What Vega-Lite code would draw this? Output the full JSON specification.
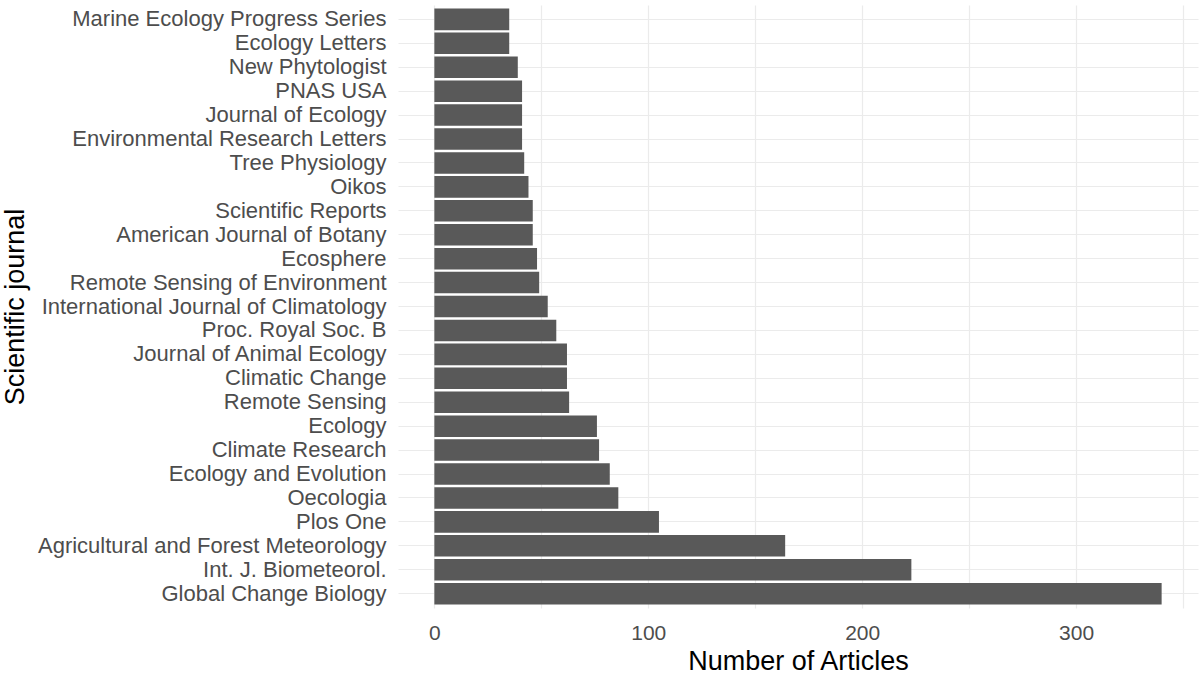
{
  "$schema": "https://vega.github.io/schema/vega-lite/v6.json",
  "width": 800,
  "height": 603,
  "autosize": {"type": "none"},
  "padding": {"left": 398, "top": 5, "right": 2, "bottom": 66},
  "background": "white",
  "data": {
    "values": [
      {"journal": "Marine Ecology Progress Series", "articles": 35},
      {"journal": "Ecology Letters", "articles": 35},
      {"journal": "New Phytologist", "articles": 39},
      {"journal": "PNAS USA", "articles": 41},
      {"journal": "Journal of Ecology", "articles": 41},
      {"journal": "Environmental Research Letters", "articles": 41},
      {"journal": "Tree Physiology", "articles": 42},
      {"journal": "Oikos", "articles": 44},
      {"journal": "Scientific Reports", "articles": 46},
      {"journal": "American Journal of Botany", "articles": 46},
      {"journal": "Ecosphere", "articles": 48},
      {"journal": "Remote Sensing of Environment", "articles": 49},
      {"journal": "International Journal of Climatology", "articles": 53},
      {"journal": "Proc. Royal Soc. B", "articles": 57},
      {"journal": "Journal of Animal Ecology", "articles": 62},
      {"journal": "Climatic Change", "articles": 62},
      {"journal": "Remote Sensing", "articles": 63},
      {"journal": "Ecology", "articles": 76},
      {"journal": "Climate Research", "articles": 77},
      {"journal": "Ecology and Evolution", "articles": 82},
      {"journal": "Oecologia", "articles": 86},
      {"journal": "Plos One", "articles": 105},
      {"journal": "Agricultural and Forest Meteorology", "articles": 164},
      {"journal": "Int. J. Biometeorol.", "articles": 223},
      {"journal": "Global Change Biology", "articles": 340}
    ]
  },
  "mark": {"type": "bar", "color": "#595959"},
  "encoding": {
    "y": {
      "field": "journal",
      "type": "nominal",
      "sort": null,
      "title": "Scientific journal",
      "scale": {"paddingInner": 0.1, "paddingOuter": 0.15},
      "axis": {
        "grid": true,
        "bandPosition": 0.5,
        "ticks": false,
        "domain": false,
        "labelLimit": 400,
        "labelFontSize": 22,
        "labelPadding": 12,
        "titleX": -383,
        "titleBaseline": "middle"
      }
    },
    "x": {
      "field": "articles",
      "type": "quantitative",
      "title": "Number of Articles",
      "scale": {"domain": [-17, 357], "nice": false, "zero": false},
      "axis": {
        "values": [0, 50, 100, 150, 200, 250, 300, 350],
        "labelExpr": "datum.value % 100 == 0 ? datum.label : ''",
        "ticks": false,
        "domain": false,
        "labelFontSize": 21,
        "labelPadding": 14,
        "titlePadding": 5
      }
    },
    "x2": {"datum": 0}
  },
  "config": {
    "view": {"stroke": null},
    "font": "Liberation Sans",
    "axis": {
      "gridColor": "#EBEBEB",
      "gridWidth": 1.2,
      "labelFont": "Liberation Sans",
      "labelColor": "#4D4D4D",
      "titleFont": "Liberation Sans",
      "titleFontSize": 27,
      "titleFontWeight": "normal",
      "titleColor": "black"
    }
  }
}
